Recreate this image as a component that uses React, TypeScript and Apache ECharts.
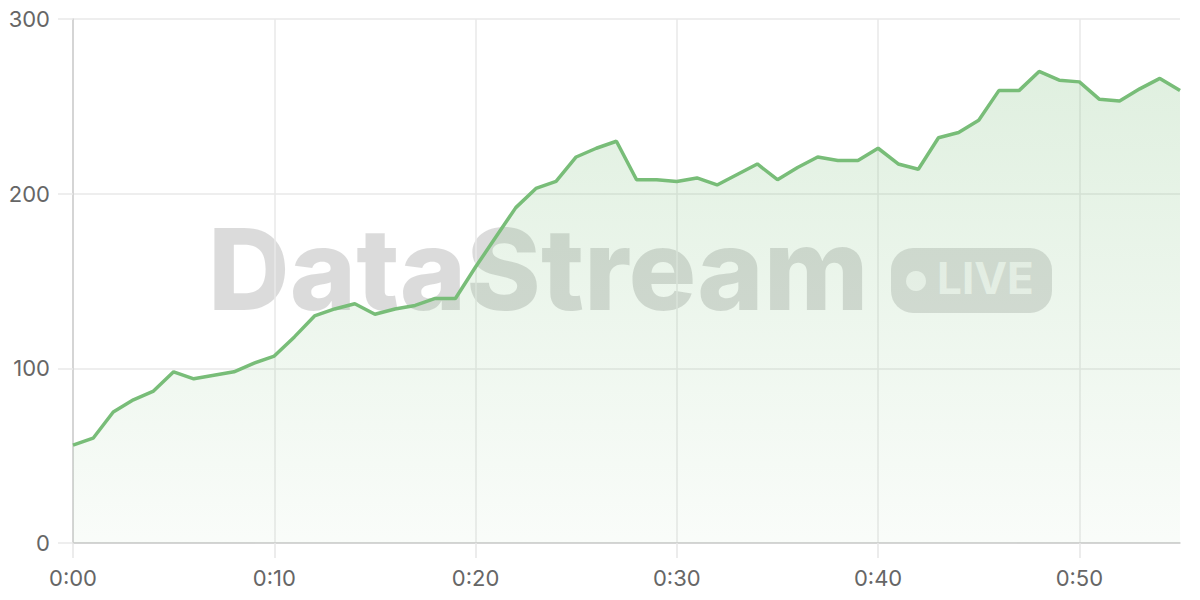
import { useEffect, useRef } from 'react';
import * as echarts from 'echarts';

const times = Array.from({ length: 56 }, (_, i) => `0:${String(i).padStart(2, '0')}`);
const values = [
  56, 60, 75, 82, 87, 98, 94, 96, 98, 103,
  107, 118, 130, 134, 137, 131, 134, 136, 140, 140,
  158, 175, 192, 203, 207, 221, 226, 230, 208, 208,
  207, 209, 205, 211, 217, 208, 215, 221, 219, 219,
  226, 217, 214, 232, 235, 242, 259, 259, 270, 265,
  264, 254, 253, 260, 266, 259,
];
const yTicks = [0, 100, 200, 300];

const FONT = 'Inter, "Noto Sans", sans-serif';

export default function App() {
  const chartRef = useRef<HTMLDivElement>(null);

  useEffect(() => {
    if (!chartRef.current) return;
    const chart = echarts.init(chartRef.current, undefined, { renderer: 'svg' });

    const option = {
      animation: false,
      backgroundColor: '#ffffff',
      textStyle: { fontFamily: FONT },
      grid: { left: 73, right: 20, top: 19, bottom: 57 },
      xAxis: {
        type: 'category',
        data: times,
        boundaryGap: false,
        axisLine: { lineStyle: { color: '#cccccc', width: 1.5 } },
        axisTick: { show: true, interval: 9, length: 15, lineStyle: { color: '#e6e6e6', width: 1.5 } },
        axisLabel: { interval: 9, color: '#666666', fontSize: 22, margin: 24, fontFamily: FONT },
        splitLine: { show: true, interval: 9, lineStyle: { color: '#e8e8e8', width: 1.5 } },
      },
      yAxis: {
        type: 'value',
        min: yTicks[0],
        max: yTicks[yTicks.length - 1],
        interval: 100,
        axisLine: { show: true, lineStyle: { color: '#cccccc', width: 1.5 } },
        axisTick: { show: true, length: 15, lineStyle: { color: '#e8e8e8', width: 1.5 } },
        axisLabel: { color: '#666666', fontSize: 22, margin: 23, fontFamily: FONT },
        splitLine: { lineStyle: { color: '#e8e8e8', width: 1.5 } },
      },
      graphic: [
        {
          type: 'text',
          left: 208,
          top: 212,
          z: 0,
          silent: true,
          style: {
            text: 'DataStream',
            fontFamily: FONT,
            fontWeight: 800,
            fontSize: 113,
            fill: 'rgba(0,0,0,0.14)',
          },
        },
        {
          type: 'rect',
          shape: { x: 891, y: 248, width: 161, height: 65, r: 22 },
          z: 0,
          silent: true,
          style: { fill: 'rgba(0,0,0,0.13)' },
        },
        {
          type: 'circle',
          shape: { cx: 916, cy: 281, r: 10 },
          z: 0,
          silent: true,
          style: { fill: 'rgba(255,255,255,0.75)' },
        },
        {
          type: 'text',
          left: 937,
          top: 256,
          z: 0,
          silent: true,
          style: {
            text: 'LIVE',
            fontFamily: FONT,
            fontWeight: 'bold',
            fontSize: 44,
            fill: 'rgba(255,255,255,0.75)',
          },
        },
      ],
      series: [
        {
          type: 'line',
          data: values,
          symbol: 'none',
          lineStyle: { color: '#78bd78', width: 3.5 },
          itemStyle: { color: '#78bd78' },
          areaStyle: {
            color: new echarts.graphic.LinearGradient(0, 0, 0, 1, [
              { offset: 0, color: 'rgba(120,189,120,0.33)' },
              { offset: 1, color: 'rgba(120,189,120,0.06)' },
            ]),
          },
        },
      ],
    };

    chart.setOption(option);
    return () => chart.dispose();
  }, []);

  return (
    <div
      ref={chartRef}
      style={{ position: 'fixed', left: 0, top: 0, width: 1200, height: 600 }}
    />
  );
}
